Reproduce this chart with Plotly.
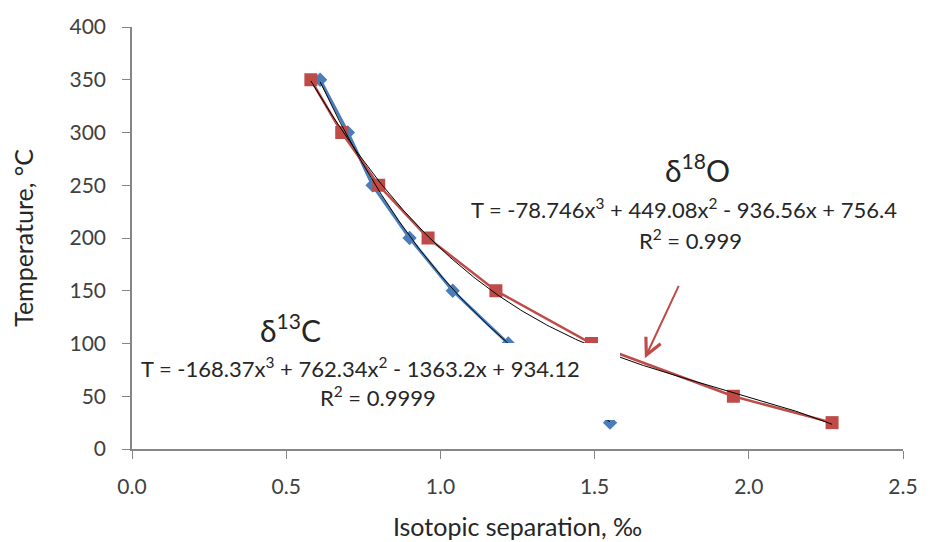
import numpy as np
import plotly.graph_objects as go

# ---- data ----
c13_x = [0.61, 0.70, 0.78, 0.90, 1.04, 1.22, 1.55]
c13_t = [350, 300, 250, 200, 150, 100, 25]
o18_x = [0.58, 0.68, 0.80, 0.96, 1.18, 1.49, 1.95, 2.27]
o18_t = [350, 300, 250, 200, 150, 100, 50, 25]
c13_coef = [-168.37, 762.34, -1363.2, 934.12]
o18_coef = [-78.746, 449.08, -936.56, 756.4]
x_ticks = [0.0, 0.5, 1.0, 1.5, 2.0, 2.5]
y_ticks = [0, 50, 100, 150, 200, 250, 300, 350, 400]

OFF = 8  # page body margin
W, H = 933, 542
L, R, T, B = 124, 38, 19, 101
PW, PH = W - L - R, H - T - B

def px(xp):
    return (xp - OFF - L) / PW

def py(yp):
    return (H - B - (yp - OFF)) / PH

FONT = "Lato"
BLUE = "#4A7EBB"
RED = "#BE4B48"

fig = go.Figure()
fig.add_trace(go.Scatter(x=c13_x, y=c13_t, mode="lines+markers",
                         line=dict(color=BLUE, width=3),
                         marker=dict(symbol="diamond", size=11, color=BLUE),
                         showlegend=False))
fig.add_trace(go.Scatter(x=o18_x, y=o18_t, mode="lines+markers",
                         line=dict(color=RED, width=2.5),
                         marker=dict(symbol="square", size=13, color=RED),
                         showlegend=False))

for xs, coef in [(c13_x, c13_coef), (o18_x, o18_coef)]:
    xx = np.linspace(min(xs), max(xs), 200)
    yy = np.polyval(coef, xx)
    fig.add_trace(go.Scatter(x=xx, y=yy, mode="lines",
                             line=dict(color="black", width=1),
                             showlegend=False, hoverinfo="skip"))

# white label box of the d13C trendline equation (covers part of the lines)
fig.add_shape(type="rect", xref="paper", yref="paper",
              x0=px(140), x1=px(620), y0=py(420), y1=py(343),
              fillcolor="white", line=dict(width=0), layer="above")

TXT = "#262626"
EQ = 22
ann = [
    dict(x=px(290), y=py(328), text="δ<sup>13</sup>C", font=dict(size=30, color=TXT)),
    dict(x=px(360), y=py(367), text="T = -168.37x<sup>3</sup> + 762.34x<sup>2</sup> - 1363.2x + 934.12", font=dict(size=EQ, color=TXT)),
    dict(x=px(378), y=py(396), text="R<sup>2</sup> = 0.9999", font=dict(size=EQ, color=TXT)),
    dict(x=px(697), y=py(168), text="δ<sup>18</sup>O", font=dict(size=30, color=TXT)),
    dict(x=px(684), y=py(208), text="T = -78.746x<sup>3</sup> + 449.08x<sup>2</sup> - 936.56x + 756.4", font=dict(size=EQ, color=TXT)),
    dict(x=px(690), y=py(240), text="R<sup>2</sup> = 0.999", font=dict(size=EQ, color=TXT)),
]
for a in ann:
    fig.add_annotation(xref="paper", yref="paper", showarrow=False,
                       xanchor="center", yanchor="middle", **a)

# arrow
fig.add_annotation(x=1.663, y=86, xref="x", yref="y",
                   ax=1.775, ay=156, axref="x", ayref="y",
                   text="", showarrow=True, arrowhead=5, arrowsize=1.6,
                   arrowwidth=2, arrowcolor=RED)

AX = "#868686"
fig.update_layout(
    width=W, height=H,
    margin=dict(l=L, r=R, t=T, b=B, autoexpand=False),
    paper_bgcolor="white", plot_bgcolor="white",
    font=dict(family=FONT, color="#404040"),
    xaxis=dict(range=[0, 2.5], tickvals=x_ticks, ticktext=[f"{v:.1f}" for v in x_ticks],
               showgrid=False, zeroline=False, showline=True, linecolor=AX, linewidth=1.5,
               ticks="outside", ticklen=8, tickcolor=AX, tickfont=dict(size=21, color="#404040"),
               ticklabelstandoff=10,
               title=dict(text="Isotopic separation, ‰", font=dict(size=25, color="#262626"), standoff=22)),
    yaxis=dict(range=[0, 400], tickvals=y_ticks,
               showgrid=False, zeroline=False, showline=True, linecolor=AX, linewidth=1.5,
               ticks="outside", ticklen=8, tickcolor=AX, tickfont=dict(size=21, color="#404040"),
               ticklabelstandoff=12,
               title=dict(text="Temperature, °C", font=dict(size=25, color="#262626"), standoff=30)),
)

fig.write_html("out.html")
